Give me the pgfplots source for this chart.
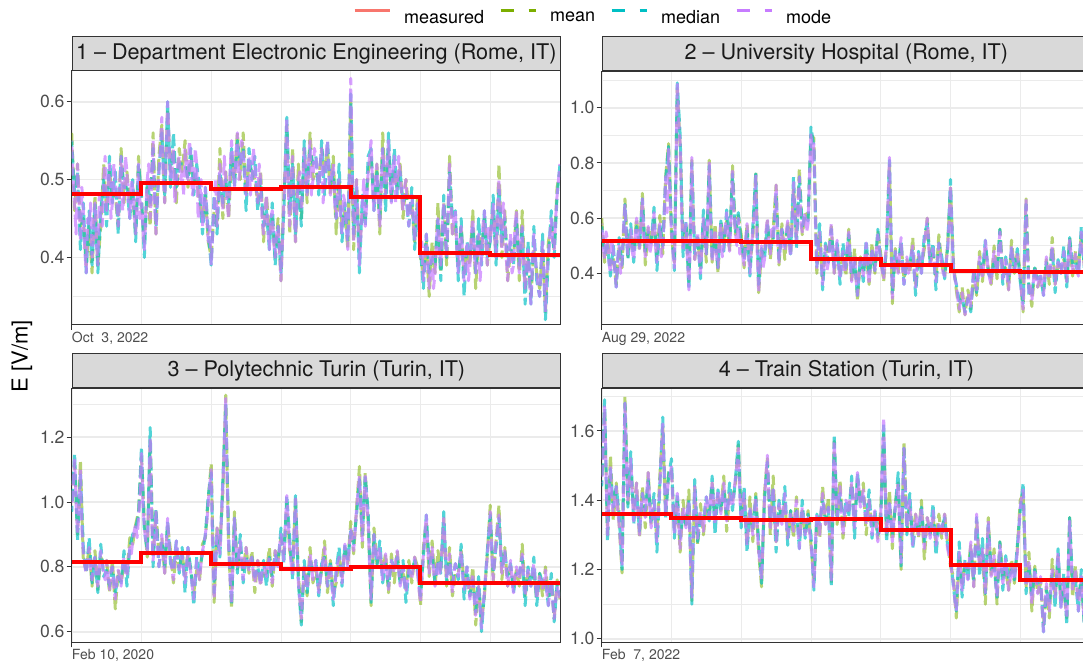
\documentclass[border=0pt]{standalone}
\usepackage{fontspec}
\setmainfont{TeX Gyre Heros}
\usepackage{pgfplots}
\usepackage{pgfplotstable}
\pgfplotsset{compat=1.18}

\definecolor{cmean}{HTML}{7CAE00}
\definecolor{cmedian}{HTML}{00BFC4}
\definecolor{cmode}{HTML}{C77CFF}
\definecolor{cmeas}{HTML}{F8766D}
\definecolor{gridc}{HTML}{EBEBEB}
\definecolor{borderc}{HTML}{333333}
\definecolor{stripc}{HTML}{D9D9D9}
\definecolor{tickc}{HTML}{4D4D4D}
\definecolor{stript}{HTML}{1A1A1A}

% mean and median: hourly values (169 rows); mode: half-hourly values (337 rows)
% ---- site 1 ----
\pgfplotstableread[row sep=\\, header=false]{
0.56\\0.46\\0.52\\0.44\\0.45\\0.39\\0.44\\0.38\\0.48\\0.39\\0.44\\0.52\\0.46\\0.51\\0.48\\0.48\\0.44\\0.54\\0.47\\0.51\\0.47\\0.48\\0.43\\0.53\\
0.47\\0.42\\0.49\\0.44\\0.56\\0.43\\0.53\\0.57\\0.47\\0.59\\0.51\\0.54\\0.47\\0.54\\0.51\\0.55\\0.49\\0.53\\0.50\\0.50\\0.47\\0.45\\0.48\\0.42\\
0.40\\0.46\\0.44\\0.54\\0.45\\0.51\\0.45\\0.53\\0.50\\0.56\\0.50\\0.56\\0.48\\0.52\\0.51\\0.50\\0.47\\0.51\\0.42\\0.48\\0.43\\0.45\\0.40\\0.45\\
0.37\\0.48\\0.57\\0.43\\0.54\\0.42\\0.52\\0.45\\0.54\\0.47\\0.56\\0.50\\0.51\\0.50\\0.54\\0.51\\0.54\\0.48\\0.53\\0.43\\0.50\\0.44\\0.46\\0.41\\
0.60\\0.41\\0.50\\0.41\\0.46\\0.45\\0.51\\0.53\\0.47\\0.52\\0.43\\0.56\\0.48\\0.54\\0.48\\0.51\\0.49\\0.52\\0.45\\0.50\\0.46\\0.47\\0.42\\0.48\\
0.40\\0.38\\0.42\\0.35\\0.42\\0.38\\0.47\\0.38\\0.47\\0.39\\0.53\\0.43\\0.44\\0.39\\0.44\\0.38\\0.41\\0.39\\0.46\\0.36\\0.43\\0.41\\0.45\\0.39\\
0.43\\0.46\\0.40\\0.52\\0.40\\0.46\\0.37\\0.41\\0.40\\0.46\\0.37\\0.46\\0.36\\0.40\\0.35\\0.41\\0.38\\0.36\\0.41\\0.33\\0.42\\0.44\\0.41\\0.49\\0.51\\
}\PaMn
\pgfplotstableread[row sep=\\, header=false]{
0.55\\0.48\\0.51\\0.41\\0.47\\0.38\\0.46\\0.39\\0.47\\0.38\\0.46\\0.50\\0.44\\0.53\\0.47\\0.51\\0.43\\0.53\\0.49\\0.49\\0.45\\0.50\\0.42\\0.52\\
0.48\\0.40\\0.50\\0.47\\0.54\\0.44\\0.51\\0.56\\0.48\\0.60\\0.49\\0.56\\0.49\\0.52\\0.52\\0.52\\0.50\\0.54\\0.48\\0.52\\0.49\\0.43\\0.49\\0.43\\
0.39\\0.48\\0.43\\0.51\\0.47\\0.50\\0.47\\0.54\\0.49\\0.55\\0.52\\0.54\\0.46\\0.54\\0.50\\0.53\\0.46\\0.50\\0.44\\0.46\\0.41\\0.47\\0.39\\0.44\\
0.38\\0.46\\0.58\\0.46\\0.52\\0.43\\0.50\\0.44\\0.55\\0.48\\0.54\\0.52\\0.53\\0.48\\0.55\\0.48\\0.55\\0.49\\0.51\\0.45\\0.52\\0.42\\0.47\\0.42\\
0.61\\0.43\\0.49\\0.38\\0.48\\0.44\\0.53\\0.54\\0.46\\0.51\\0.45\\0.54\\0.46\\0.56\\0.47\\0.54\\0.48\\0.51\\0.47\\0.48\\0.44\\0.49\\0.41\\0.47\\
0.41\\0.36\\0.43\\0.38\\0.40\\0.39\\0.45\\0.37\\0.48\\0.40\\0.51\\0.45\\0.46\\0.37\\0.45\\0.35\\0.42\\0.40\\0.44\\0.38\\0.45\\0.39\\0.46\\0.40\\
0.42\\0.48\\0.39\\0.49\\0.42\\0.45\\0.39\\0.42\\0.39\\0.45\\0.39\\0.44\\0.34\\0.42\\0.34\\0.44\\0.37\\0.35\\0.43\\0.32\\0.40\\0.46\\0.40\\0.48\\0.52\\
}\PaMd
\pgfplotstableread[row sep=\\, header=false]{
0.55\\0.50\\0.47\\0.43\\0.52\\0.48\\0.42\\0.49\\0.46\\0.41\\0.38\\0.45\\0.44\\0.47\\0.40\\0.43\\0.47\\0.42\\0.39\\0.48\\0.45\\0.44\\0.50\\0.53\\
0.46\\0.48\\0.52\\0.45\\0.47\\0.52\\0.50\\0.47\\0.44\\0.49\\0.53\\0.46\\0.48\\0.53\\0.51\\0.47\\0.45\\0.50\\0.49\\0.46\\0.43\\0.47\\0.52\\0.45\\
0.47\\0.44\\0.41\\0.46\\0.50\\0.52\\0.45\\0.49\\0.55\\0.47\\0.43\\0.48\\0.51\\0.54\\0.58\\0.50\\0.47\\0.53\\0.60\\0.55\\0.50\\0.51\\0.54\\0.47\\
0.49\\0.52\\0.53\\0.50\\0.51\\0.48\\0.54\\0.51\\0.50\\0.55\\0.53\\0.48\\0.49\\0.54\\0.52\\0.45\\0.47\\0.50\\0.44\\0.47\\0.49\\0.45\\0.42\\0.44\\
0.39\\0.43\\0.47\\0.50\\0.44\\0.48\\0.52\\0.49\\0.46\\0.53\\0.50\\0.47\\0.45\\0.51\\0.55\\0.52\\0.49\\0.53\\0.56\\0.50\\0.51\\0.55\\0.54\\0.51\\
0.48\\0.50\\0.53\\0.48\\0.50\\0.54\\0.52\\0.49\\0.47\\0.52\\0.50\\0.45\\0.43\\0.46\\0.48\\0.44\\0.41\\0.45\\0.46\\0.42\\0.40\\0.43\\0.44\\0.41\\
0.37\\0.42\\0.47\\0.52\\0.58\\0.49\\0.44\\0.50\\0.53\\0.46\\0.42\\0.47\\0.50\\0.51\\0.46\\0.49\\0.54\\0.51\\0.48\\0.52\\0.55\\0.48\\0.50\\0.54\\
0.53\\0.51\\0.49\\0.52\\0.54\\0.47\\0.50\\0.53\\0.55\\0.50\\0.48\\0.51\\0.52\\0.47\\0.45\\0.49\\0.50\\0.45\\0.43\\0.48\\0.47\\0.44\\0.41\\0.50\\
0.63\\0.52\\0.42\\0.46\\0.50\\0.44\\0.39\\0.43\\0.47\\0.50\\0.44\\0.47\\0.51\\0.53\\0.55\\0.49\\0.46\\0.50\\0.52\\0.47\\0.44\\0.49\\0.54\\0.51\\
0.48\\0.52\\0.55\\0.50\\0.47\\0.51\\0.53\\0.47\\0.49\\0.53\\0.51\\0.48\\0.46\\0.49\\0.50\\0.46\\0.44\\0.47\\0.48\\0.45\\0.42\\0.46\\0.47\\0.43\\
0.40\\0.42\\0.37\\0.40\\0.43\\0.39\\0.36\\0.40\\0.41\\0.36\\0.38\\0.42\\0.45\\0.41\\0.39\\0.44\\0.47\\0.43\\0.40\\0.46\\0.52\\0.47\\0.43\\0.45\\
0.46\\0.41\\0.38\\0.42\\0.44\\0.40\\0.37\\0.40\\0.42\\0.37\\0.39\\0.43\\0.45\\0.41\\0.38\\0.42\\0.43\\0.37\\0.40\\0.44\\0.46\\0.42\\0.39\\0.44\\
0.42\\0.44\\0.47\\0.43\\0.40\\0.46\\0.50\\0.44\\0.41\\0.47\\0.45\\0.40\\0.37\\0.41\\0.43\\0.38\\0.39\\0.44\\0.46\\0.41\\0.38\\0.42\\0.44\\0.39\\
0.36\\0.40\\0.41\\0.37\\0.34\\0.39\\0.43\\0.40\\0.38\\0.36\\0.35\\0.39\\0.42\\0.37\\0.33\\0.38\\0.40\\0.43\\0.45\\0.42\\0.41\\0.45\\0.48\\0.50\\0.52\\
}\PaMo
% ---- site 2 ----
\pgfplotstableread[row sep=\\, header=false]{
0.60\\0.44\\0.52\\0.43\\0.46\\0.36\\0.50\\0.42\\0.67\\0.46\\0.54\\0.48\\0.60\\0.48\\0.69\\0.43\\0.57\\0.51\\0.60\\0.45\\0.61\\0.47\\0.75\\0.87\\
0.54\\0.44\\1.07\\0.86\\0.50\\0.58\\0.37\\0.81\\0.45\\0.53\\0.42\\0.59\\0.44\\0.81\\0.44\\0.58\\0.40\\0.59\\0.52\\0.59\\0.48\\0.79\\0.54\\0.61\\
0.54\\0.42\\0.58\\0.43\\0.53\\0.77\\0.33\\0.48\\0.47\\0.59\\0.45\\0.56\\0.72\\0.43\\0.58\\0.45\\0.59\\0.47\\0.71\\0.53\\0.78\\0.54\\0.62\\0.60\\
0.90\\0.89\\0.40\\0.54\\0.38\\0.50\\0.47\\0.57\\0.40\\0.50\\0.40\\0.47\\0.39\\0.56\\0.37\\0.49\\0.30\\0.46\\0.41\\0.48\\0.36\\0.51\\0.40\\0.55\\
0.47\\0.37\\0.50\\0.80\\0.29\\0.49\\0.40\\0.51\\0.38\\0.45\\0.40\\0.53\\0.35\\0.46\\0.42\\0.49\\0.60\\0.44\\0.47\\0.38\\0.54\\0.43\\0.39\\0.50\\
0.71\\0.44\\0.34\\0.26\\0.35\\0.25\\0.34\\0.27\\0.40\\0.32\\0.48\\0.37\\0.49\\0.42\\0.36\\0.50\\0.38\\0.56\\0.40\\0.42\\0.34\\0.52\\0.40\\0.48\\
0.40\\0.26\\0.67\\0.36\\0.28\\0.43\\0.35\\0.38\\0.34\\0.45\\0.36\\0.53\\0.36\\0.43\\0.42\\0.45\\0.37\\0.53\\0.39\\0.48\\0.42\\0.54\\0.43\\0.51\\0.45\\
}\PbMn
\pgfplotstableread[row sep=\\, header=false]{
0.57\\0.47\\0.50\\0.39\\0.50\\0.35\\0.53\\0.43\\0.65\\0.45\\0.58\\0.44\\0.57\\0.50\\0.67\\0.48\\0.55\\0.51\\0.64\\0.41\\0.58\\0.50\\0.74\\0.86\\
0.57\\0.41\\1.09\\0.90\\0.46\\0.59\\0.34\\0.80\\0.47\\0.54\\0.38\\0.63\\0.47\\0.79\\0.46\\0.53\\0.42\\0.59\\0.48\\0.63\\0.51\\0.76\\0.55\\0.62\\
0.51\\0.45\\0.56\\0.39\\0.57\\0.76\\0.36\\0.49\\0.45\\0.58\\0.49\\0.52\\0.69\\0.45\\0.56\\0.50\\0.57\\0.47\\0.75\\0.49\\0.75\\0.57\\0.61\\0.59\\
0.93\\0.86\\0.42\\0.58\\0.34\\0.51\\0.44\\0.56\\0.42\\0.51\\0.36\\0.51\\0.42\\0.54\\0.39\\0.44\\0.32\\0.46\\0.37\\0.52\\0.39\\0.48\\0.41\\0.56\\
0.44\\0.40\\0.48\\0.81\\0.33\\0.48\\0.43\\0.52\\0.36\\0.44\\0.44\\0.49\\0.32\\0.48\\0.40\\0.54\\0.58\\0.44\\0.51\\0.34\\0.51\\0.46\\0.38\\0.49\\
0.74\\0.41\\0.36\\0.30\\0.31\\0.26\\0.31\\0.26\\0.42\\0.33\\0.44\\0.41\\0.52\\0.40\\0.38\\0.45\\0.40\\0.56\\0.36\\0.46\\0.37\\0.49\\0.41\\0.49\\
0.37\\0.29\\0.65\\0.32\\0.32\\0.42\\0.38\\0.39\\0.32\\0.44\\0.40\\0.49\\0.33\\0.45\\0.40\\0.50\\0.35\\0.53\\0.43\\0.44\\0.39\\0.57\\0.42\\0.50\\0.46\\
}\PbMd
\pgfplotstableread[row sep=\\, header=false]{
0.58\\0.50\\0.45\\0.55\\0.52\\0.44\\0.40\\0.52\\0.48\\0.41\\0.35\\0.45\\0.50\\0.40\\0.44\\0.56\\0.65\\0.52\\0.47\\0.50\\0.56\\0.48\\0.45\\0.53\\
0.60\\0.54\\0.49\\0.58\\0.67\\0.52\\0.46\\0.51\\0.57\\0.47\\0.50\\0.55\\0.62\\0.50\\0.44\\0.53\\0.58\\0.46\\0.48\\0.60\\0.75\\0.62\\0.85\\0.68\\
0.55\\0.48\\0.42\\0.70\\1.09\\0.95\\0.87\\0.62\\0.48\\0.55\\0.58\\0.45\\0.34\\0.52\\0.82\\0.60\\0.45\\0.50\\0.55\\0.46\\0.40\\0.51\\0.60\\0.53\\
0.47\\0.62\\0.80\\0.57\\0.44\\0.50\\0.56\\0.47\\0.42\\0.53\\0.58\\0.46\\0.50\\0.57\\0.62\\0.53\\0.48\\0.60\\0.77\\0.62\\0.55\\0.50\\0.60\\0.47\\
0.52\\0.47\\0.43\\0.52\\0.58\\0.47\\0.40\\0.50\\0.55\\0.62\\0.76\\0.48\\0.33\\0.44\\0.50\\0.42\\0.45\\0.55\\0.60\\0.50\\0.47\\0.56\\0.53\\0.60\\
0.72\\0.52\\0.44\\0.51\\0.56\\0.50\\0.48\\0.55\\0.59\\0.50\\0.46\\0.58\\0.73\\0.60\\0.52\\0.64\\0.75\\0.58\\0.55\\0.60\\0.62\\0.55\\0.58\\0.75\\
0.91\\0.80\\0.87\\0.60\\0.42\\0.50\\0.55\\0.45\\0.36\\0.44\\0.50\\0.41\\0.44\\0.52\\0.58\\0.47\\0.40\\0.48\\0.52\\0.43\\0.38\\0.45\\0.48\\0.40\\
0.42\\0.50\\0.55\\0.44\\0.37\\0.43\\0.47\\0.38\\0.32\\0.40\\0.45\\0.44\\0.39\\0.46\\0.51\\0.42\\0.36\\0.44\\0.49\\0.43\\0.41\\0.48\\0.54\\0.49\\
0.45\\0.41\\0.38\\0.45\\0.50\\0.66\\0.82\\0.55\\0.31\\0.40\\0.48\\0.44\\0.40\\0.47\\0.53\\0.42\\0.36\\0.41\\0.46\\0.40\\0.42\\0.47\\0.50\\0.41\\
0.35\\0.43\\0.47\\0.44\\0.40\\0.47\\0.52\\0.55\\0.60\\0.50\\0.43\\0.46\\0.49\\0.42\\0.37\\0.45\\0.51\\0.47\\0.44\\0.40\\0.39\\0.44\\0.48\\0.58\\
0.72\\0.55\\0.42\\0.38\\0.36\\0.31\\0.27\\0.30\\0.33\\0.29\\0.25\\0.28\\0.31\\0.33\\0.28\\0.35\\0.40\\0.36\\0.34\\0.41\\0.46\\0.42\\0.38\\0.45\\
0.52\\0.46\\0.41\\0.38\\0.36\\0.43\\0.48\\0.44\\0.40\\0.47\\0.55\\0.46\\0.38\\0.42\\0.45\\0.39\\0.34\\0.43\\0.50\\0.45\\0.41\\0.44\\0.47\\0.42\\
0.38\\0.32\\0.27\\0.50\\0.67\\0.48\\0.33\\0.36\\0.30\\0.37\\0.42\\0.38\\0.35\\0.39\\0.40\\0.35\\0.32\\0.40\\0.46\\0.41\\0.38\\0.44\\0.50\\0.42\\
0.36\\0.40\\0.44\\0.43\\0.40\\0.44\\0.48\\0.42\\0.37\\0.45\\0.52\\0.46\\0.41\\0.44\\0.47\\0.42\\0.39\\0.47\\0.55\\0.48\\0.43\\0.46\\0.49\\0.44\\0.45\\
}\PbMo
% ---- site 3 ----
\pgfplotstableread[row sep=\\, header=false]{
1.00\\1.12\\0.90\\1.13\\0.82\\0.79\\0.86\\0.74\\0.85\\0.73\\0.83\\0.81\\0.82\\0.72\\0.82\\0.67\\0.79\\0.75\\0.81\\0.78\\0.89\\0.87\\0.93\\0.97\\
1.14\\0.94\\0.83\\1.19\\0.84\\0.97\\0.83\\0.89\\0.78\\0.93\\0.85\\0.75\\0.85\\0.80\\0.84\\0.77\\0.84\\0.79\\0.72\\0.79\\0.76\\0.87\\0.89\\1.01\\
1.12\\0.69\\0.92\\0.87\\1.03\\1.33\\0.86\\0.67\\0.97\\0.79\\0.86\\0.79\\0.86\\0.78\\0.85\\0.72\\0.82\\0.75\\0.78\\0.78\\0.86\\0.74\\0.85\\0.82\\
0.89\\0.84\\1.00\\0.85\\0.80\\1.01\\0.78\\0.63\\0.80\\0.71\\0.86\\0.75\\0.79\\0.73\\0.79\\0.88\\0.72\\0.82\\0.72\\0.75\\0.83\\0.77\\0.86\\0.81\\
0.94\\0.84\\0.98\\1.11\\0.86\\1.09\\0.94\\0.68\\0.92\\0.81\\0.84\\0.79\\0.84\\0.72\\0.84\\0.75\\0.85\\0.75\\0.78\\0.73\\0.82\\0.75\\0.83\\0.80\\
0.68\\0.86\\0.94\\0.77\\0.88\\0.74\\0.85\\0.79\\0.95\\0.74\\0.86\\0.71\\0.78\\0.78\\0.85\\0.75\\0.78\\0.71\\0.80\\0.62\\0.74\\0.63\\0.71\\0.84\\
0.99\\0.75\\0.88\\0.99\\0.76\\0.86\\0.74\\0.80\\0.74\\0.79\\0.74\\0.87\\0.71\\0.78\\0.76\\0.78\\0.70\\0.78\\0.71\\0.80\\0.71\\0.75\\0.64\\0.76\\0.70\\
}\PcMn
\pgfplotstableread[row sep=\\, header=false]{
0.97\\1.15\\0.88\\1.09\\0.86\\0.78\\0.89\\0.75\\0.83\\0.72\\0.87\\0.77\\0.79\\0.74\\0.80\\0.72\\0.77\\0.75\\0.85\\0.74\\0.86\\0.90\\0.92\\0.96\\
1.17\\0.91\\0.85\\1.23\\0.80\\0.98\\0.80\\0.88\\0.80\\0.94\\0.81\\0.79\\0.88\\0.78\\0.86\\0.72\\0.86\\0.79\\0.68\\0.83\\0.79\\0.84\\0.90\\1.02\\
1.09\\0.72\\0.90\\0.83\\1.07\\1.30\\0.89\\0.68\\0.95\\0.78\\0.90\\0.75\\0.83\\0.80\\0.83\\0.77\\0.80\\0.75\\0.82\\0.74\\0.83\\0.77\\0.84\\0.81\\
0.92\\0.81\\1.02\\0.89\\0.76\\1.02\\0.75\\0.62\\0.82\\0.72\\0.82\\0.79\\0.82\\0.71\\0.81\\0.83\\0.74\\0.82\\0.68\\0.79\\0.86\\0.74\\0.87\\0.82\\
0.91\\0.87\\0.96\\1.07\\0.90\\1.08\\0.97\\0.69\\0.90\\0.80\\0.88\\0.75\\0.81\\0.74\\0.82\\0.80\\0.83\\0.75\\0.82\\0.69\\0.79\\0.78\\0.82\\0.79\\
0.71\\0.83\\0.96\\0.81\\0.84\\0.75\\0.82\\0.78\\0.97\\0.75\\0.82\\0.75\\0.81\\0.76\\0.87\\0.70\\0.80\\0.71\\0.76\\0.66\\0.77\\0.60\\0.72\\0.85\\
0.96\\0.78\\0.86\\0.95\\0.80\\0.85\\0.77\\0.81\\0.72\\0.78\\0.78\\0.83\\0.68\\0.80\\0.74\\0.83\\0.68\\0.78\\0.75\\0.76\\0.68\\0.78\\0.63\\0.75\\0.71\\
}\PcMd
\pgfplotstableread[row sep=\\, header=false]{
0.98\\1.05\\1.13\\1.00\\0.90\\0.97\\1.10\\0.92\\0.84\\0.80\\0.78\\0.83\\0.86\\0.79\\0.76\\0.81\\0.83\\0.77\\0.74\\0.80\\0.85\\0.81\\0.78\\0.76\\
0.82\\0.77\\0.73\\0.79\\0.80\\0.74\\0.70\\0.76\\0.79\\0.77\\0.74\\0.80\\0.83\\0.78\\0.77\\0.82\\0.86\\0.84\\0.88\\0.91\\0.93\\0.89\\0.95\\1.02\\
1.15\\1.00\\0.92\\0.88\\0.85\\1.02\\1.20\\0.95\\0.82\\0.88\\0.97\\0.86\\0.80\\0.84\\0.90\\0.82\\0.78\\0.86\\0.95\\0.87\\0.83\\0.79\\0.76\\0.82\\
0.88\\0.83\\0.79\\0.81\\0.84\\0.79\\0.75\\0.80\\0.86\\0.81\\0.78\\0.74\\0.70\\0.77\\0.82\\0.78\\0.76\\0.81\\0.85\\0.87\\0.90\\0.94\\1.00\\1.05\\
1.10\\0.85\\0.70\\0.80\\0.92\\0.87\\0.84\\0.95\\1.05\\1.18\\1.32\\1.05\\0.86\\0.76\\0.69\\0.82\\0.95\\0.86\\0.80\\0.84\\0.88\\0.81\\0.76\\0.82\\
0.86\\0.81\\0.79\\0.82\\0.83\\0.78\\0.75\\0.79\\0.82\\0.77\\0.74\\0.78\\0.80\\0.79\\0.77\\0.81\\0.83\\0.78\\0.75\\0.80\\0.85\\0.81\\0.80\\0.86\\
0.90\\0.86\\0.82\\0.93\\1.02\\0.94\\0.86\\0.81\\0.78\\0.90\\1.01\\0.86\\0.75\\0.70\\0.64\\0.72\\0.80\\0.77\\0.73\\0.79\\0.84\\0.80\\0.76\\0.79\\
0.82\\0.77\\0.72\\0.76\\0.79\\0.82\\0.86\\0.79\\0.74\\0.78\\0.81\\0.75\\0.70\\0.74\\0.78\\0.81\\0.83\\0.79\\0.75\\0.82\\0.87\\0.83\\0.80\\0.86\\
0.92\\0.88\\0.85\\0.91\\0.98\\1.03\\1.08\\0.97\\0.88\\0.99\\1.08\\1.00\\0.94\\0.80\\0.70\\0.81\\0.90\\0.85\\0.82\\0.84\\0.86\\0.80\\0.76\\0.81\\
0.84\\0.78\\0.73\\0.78\\0.82\\0.80\\0.78\\0.82\\0.85\\0.79\\0.74\\0.77\\0.80\\0.75\\0.72\\0.76\\0.79\\0.78\\0.76\\0.80\\0.83\\0.80\\0.78\\0.73\\
0.69\\0.77\\0.84\\0.90\\0.96\\0.86\\0.78\\0.82\\0.86\\0.79\\0.74\\0.78\\0.82\\0.77\\0.80\\0.87\\0.95\\0.85\\0.76\\0.80\\0.84\\0.77\\0.72\\0.78\\
0.81\\0.79\\0.77\\0.81\\0.85\\0.78\\0.73\\0.77\\0.80\\0.74\\0.70\\0.75\\0.78\\0.70\\0.65\\0.71\\0.74\\0.67\\0.61\\0.68\\0.72\\0.79\\0.83\\0.90\\
0.97\\0.85\\0.76\\0.82\\0.88\\0.92\\0.96\\0.86\\0.78\\0.81\\0.85\\0.79\\0.74\\0.78\\0.82\\0.76\\0.72\\0.77\\0.80\\0.78\\0.76\\0.80\\0.84\\0.77\\
0.71\\0.75\\0.79\\0.76\\0.74\\0.78\\0.81\\0.75\\0.70\\0.74\\0.77\\0.75\\0.73\\0.76\\0.79\\0.72\\0.68\\0.73\\0.76\\0.69\\0.64\\0.70\\0.74\\0.72\\0.70\\
}\PcMo
% ---- site 4 ----
\pgfplotstableread[row sep=\\, header=false]{
1.47\\1.66\\1.30\\1.53\\1.34\\1.45\\1.33\\1.19\\1.70\\1.39\\1.50\\1.37\\1.45\\1.29\\1.44\\1.32\\1.48\\1.33\\1.38\\1.29\\1.47\\1.61\\1.36\\1.48\\
1.49\\1.32\\1.40\\1.25\\1.40\\1.32\\1.43\\1.11\\1.44\\1.27\\1.39\\1.30\\1.38\\1.36\\1.45\\1.35\\1.41\\1.37\\1.47\\1.31\\1.42\\1.40\\1.45\\1.56\\
1.35\\1.41\\1.27\\1.41\\1.28\\1.42\\1.25\\1.15\\1.42\\1.52\\1.30\\1.47\\1.28\\1.38\\1.35\\1.39\\1.29\\1.37\\1.29\\1.41\\1.29\\1.37\\1.30\\1.37\\
1.27\\1.17\\1.34\\1.29\\1.44\\1.33\\1.41\\1.16\\1.57\\1.33\\1.46\\1.29\\1.37\\1.37\\1.45\\1.34\\1.46\\1.39\\1.45\\1.30\\1.40\\1.32\\1.36\\1.29\\
1.37\\1.59\\1.30\\1.43\\1.26\\1.39\\1.45\\1.20\\1.57\\1.31\\1.38\\1.30\\1.36\\1.29\\1.40\\1.23\\1.35\\1.30\\1.35\\1.28\\1.36\\1.29\\1.36\\1.28\\
1.21\\1.18\\1.06\\1.24\\1.16\\1.22\\1.20\\1.27\\1.15\\1.34\\1.22\\1.25\\1.10\\1.35\\1.18\\1.26\\1.10\\1.28\\1.18\\1.20\\1.14\\1.23\\1.16\\1.26\\
1.40\\1.42\\1.15\\1.25\\1.08\\1.21\\1.13\\1.16\\1.04\\1.15\\1.06\\1.23\\1.12\\1.24\\1.11\\1.14\\1.06\\1.35\\1.12\\1.21\\1.11\\1.17\\1.05\\1.24\\1.15\\
}\PdMn
\pgfplotstableread[row sep=\\, header=false]{
1.44\\1.69\\1.28\\1.49\\1.38\\1.44\\1.36\\1.20\\1.68\\1.38\\1.54\\1.33\\1.42\\1.31\\1.42\\1.37\\1.46\\1.33\\1.42\\1.25\\1.44\\1.64\\1.35\\1.47\\
1.52\\1.29\\1.42\\1.29\\1.36\\1.33\\1.40\\1.10\\1.46\\1.28\\1.35\\1.34\\1.41\\1.34\\1.47\\1.30\\1.43\\1.37\\1.43\\1.35\\1.45\\1.37\\1.46\\1.57\\
1.32\\1.44\\1.25\\1.37\\1.32\\1.41\\1.28\\1.16\\1.40\\1.51\\1.34\\1.43\\1.25\\1.40\\1.33\\1.44\\1.27\\1.37\\1.33\\1.37\\1.26\\1.40\\1.29\\1.36\\
1.30\\1.14\\1.36\\1.33\\1.40\\1.34\\1.38\\1.15\\1.59\\1.34\\1.42\\1.33\\1.40\\1.35\\1.47\\1.29\\1.48\\1.39\\1.41\\1.34\\1.43\\1.29\\1.37\\1.30\\
1.34\\1.62\\1.28\\1.39\\1.30\\1.38\\1.48\\1.21\\1.55\\1.30\\1.42\\1.26\\1.33\\1.31\\1.38\\1.28\\1.33\\1.30\\1.39\\1.24\\1.33\\1.32\\1.35\\1.27\\
1.24\\1.15\\1.08\\1.28\\1.12\\1.23\\1.17\\1.26\\1.17\\1.35\\1.18\\1.29\\1.13\\1.33\\1.20\\1.21\\1.12\\1.28\\1.14\\1.24\\1.17\\1.20\\1.17\\1.27\\
1.37\\1.45\\1.13\\1.21\\1.12\\1.20\\1.16\\1.17\\1.02\\1.14\\1.10\\1.19\\1.09\\1.26\\1.09\\1.19\\1.04\\1.35\\1.16\\1.17\\1.08\\1.20\\1.04\\1.23\\1.16\\
}\PdMd
\pgfplotstableread[row sep=\\, header=false]{
1.45\\1.55\\1.67\\1.48\\1.30\\1.42\\1.50\\1.40\\1.36\\1.41\\1.44\\1.37\\1.33\\1.27\\1.21\\1.45\\1.68\\1.52\\1.40\\1.47\\1.52\\1.42\\1.34\\1.40\\
1.45\\1.36\\1.30\\1.37\\1.42\\1.39\\1.35\\1.42\\1.48\\1.39\\1.32\\1.36\\1.40\\1.33\\1.28\\1.37\\1.44\\1.54\\1.62\\1.48\\1.36\\1.42\\1.46\\1.47\\
1.50\\1.38\\1.30\\1.36\\1.42\\1.33\\1.26\\1.33\\1.38\\1.35\\1.32\\1.37\\1.40\\1.24\\1.12\\1.30\\1.44\\1.35\\1.29\\1.34\\1.37\\1.33\\1.31\\1.37\\
1.41\\1.38\\1.35\\1.41\\1.45\\1.38\\1.33\\1.39\\1.43\\1.40\\1.36\\1.41\\1.45\\1.39\\1.34\\1.38\\1.42\\1.40\\1.38\\1.43\\1.46\\1.50\\1.55\\1.42\\
1.33\\1.38\\1.42\\1.34\\1.27\\1.33\\1.38\\1.34\\1.30\\1.36\\1.41\\1.32\\1.25\\1.22\\1.17\\1.30\\1.40\\1.47\\1.53\\1.41\\1.32\\1.38\\1.44\\1.35\\
1.28\\1.34\\1.39\\1.36\\1.33\\1.38\\1.42\\1.34\\1.29\\1.33\\1.36\\1.34\\1.31\\1.36\\1.40\\1.32\\1.26\\1.33\\1.38\\1.34\\1.30\\1.33\\1.35\\1.31\\
1.28\\1.22\\1.15\\1.27\\1.36\\1.34\\1.30\\1.37\\1.42\\1.38\\1.33\\1.36\\1.38\\1.26\\1.17\\1.38\\1.57\\1.45\\1.35\\1.40\\1.44\\1.36\\1.30\\1.35\\
1.40\\1.39\\1.36\\1.41\\1.45\\1.38\\1.32\\1.41\\1.48\\1.43\\1.38\\1.40\\1.43\\1.37\\1.33\\1.37\\1.40\\1.35\\1.30\\1.34\\1.37\\1.32\\1.28\\1.31\\
1.35\\1.50\\1.64\\1.45\\1.30\\1.36\\1.40\\1.33\\1.28\\1.34\\1.38\\1.41\\1.45\\1.32\\1.22\\1.40\\1.55\\1.42\\1.32\\1.37\\1.40\\1.33\\1.27\\1.31\\
1.36\\1.34\\1.30\\1.35\\1.38\\1.31\\1.26\\1.30\\1.35\\1.33\\1.29\\1.32\\1.37\\1.31\\1.27\\1.30\\1.33\\1.32\\1.30\\1.34\\1.36\\1.30\\1.26\\1.24\\
1.22\\1.19\\1.16\\1.11\\1.08\\1.17\\1.25\\1.19\\1.14\\1.18\\1.22\\1.20\\1.17\\1.23\\1.28\\1.21\\1.15\\1.26\\1.36\\1.27\\1.20\\1.23\\1.26\\1.19\\
1.13\\1.24\\1.34\\1.25\\1.18\\1.21\\1.24\\1.17\\1.12\\1.20\\1.27\\1.22\\1.16\\1.19\\1.23\\1.18\\1.14\\1.17\\1.21\\1.19\\1.17\\1.21\\1.25\\1.31\\
1.38\\1.41\\1.43\\1.30\\1.15\\1.19\\1.22\\1.16\\1.10\\1.15\\1.20\\1.17\\1.13\\1.15\\1.18\\1.10\\1.02\\1.09\\1.16\\1.12\\1.08\\1.14\\1.20\\1.16\\
1.12\\1.18\\1.25\\1.17\\1.09\\1.13\\1.17\\1.11\\1.06\\1.20\\1.34\\1.24\\1.14\\1.17\\1.20\\1.14\\1.08\\1.13\\1.18\\1.11\\1.05\\1.14\\1.22\\1.19\\1.15\\
}\PdMo

\pgfplotsset{
  panel/.style={
    scale only axis, width=488.3pt, height=254pt, anchor=south west,
    xmin=0, xmax=7, xtick={0}, minor xtick={1,2,3,4,5,6},
    xmajorgrids, xminorgrids, ymajorgrids, yminorgrids,
    major grid style={gridc, line width=1.8pt},
    minor grid style={gridc, line width=0.9pt},
    tick align=outside, tick pos=left,
    major tick length=5pt, minor tick length=0pt,
    tick style={borderc, line width=1pt},
    axis line style={borderc, line width=1pt},
    /pgf/number format/assume math mode=true,
    yticklabel style={font=\fontsize{17.6}{20}\selectfont, text=tickc, inner sep=2pt,
      /pgf/number format/fixed, /pgf/number format/fixed zerofill,
      /pgf/number format/precision=1},
    xticklabel style={font=\fontsize{14}{16}\selectfont, text=tickc,
      anchor=north west, inner sep=0pt, yshift=-2pt},
  },
  series/.style={line width=3pt, line join=round, forget plot},
  dmean/.style={series, cmean, opacity=0.55, dash pattern=on 12pt off 5pt},
  dmedian/.style={series, cmedian, opacity=0.68, dash pattern=on 12pt off 5pt, dash phase=6pt},
  dmode/.style={series, cmode, opacity=0.72, dash pattern=on 12pt off 5pt, dash phase=11pt},
  meas/.style={red, line width=4pt, const plot, forget plot},
}
\tikzset{
  strip/.style={anchor=south west, fill=stripc, draw=borderc, line width=1pt,
    minimum width=488.3pt, minimum height=34pt, inner sep=0pt,
    font=\fontsize{21.6}{24}\selectfont, text=stript},
}

\begin{document}
\begin{tikzpicture}
\path[use as bounding box] (0pt,0pt) rectangle (1083pt,667pt);

% ---------- site 1 ----------
\begin{axis}[panel, name=pa, at={(71.7pt,342pt)},
  ymin=0.3132, ymax=0.6394, ytick={0.4,0.5,0.6}, minor ytick={0.35,0.45,0.55},
  xticklabels={Oct~~3{,} 2022},
  legend image code/.code={\draw[#1] (0pt,6.5pt) -- (35pt,6.5pt);},
  legend columns=4, legend cell align=left,
  legend style={at={(0.576,1.212)}, anchor=west, draw=none, fill=none,
    inner sep=0pt, font=\fontsize{18}{21}\selectfont, nodes={inner sep=0pt},
    /tikz/every odd column/.append style={column sep=13pt},
    /tikz/every even column/.append style={column sep=15pt}}]
\addlegendimage{cmeas, line width=3pt}
\addlegendentry{measured}
\addlegendimage{cmean, line width=3pt, dash pattern=on 13pt off 15pt}
\addlegendentry{mean}
\addlegendimage{cmedian, line width=3pt, dash pattern=on 13pt off 15pt}
\addlegendentry{median}
\addlegendimage{cmode, line width=3pt, dash pattern=on 13pt off 15pt}
\addlegendentry{mode}
\addplot[dmean] table[x expr=\coordindex/24, y index=0] {\PaMn};
\addplot[dmedian] table[x expr=\coordindex/24, y index=0] {\PaMd};
\addplot[dmode] table[x expr=\coordindex/48, y index=0] {\PaMo};
\addplot[meas] coordinates {(0,0.482)(1,0.495)(2,0.488)(3,0.490)(4,0.477)(5,0.406)(6,0.403)(7,0.403)};
\end{axis}
\node[strip] at (pa.north west) {1 – Department Electronic Engineering (Rome, IT)};

% ---------- site 2 ----------
\begin{axis}[panel, name=pb, at={(601.7pt,342pt)},
  ymin=0.213, ymax=1.133, ytick={0.4,0.6,0.8,1.0}, minor ytick={0.3,0.5,0.7,0.9,1.1},
  xticklabels={Aug 29{,} 2022}]
\addplot[dmean] table[x expr=\coordindex/24, y index=0] {\PbMn};
\addplot[dmedian] table[x expr=\coordindex/24, y index=0] {\PbMd};
\addplot[dmode] table[x expr=\coordindex/48, y index=0] {\PbMo};
\addplot[meas] coordinates {(0,0.517)(2,0.515)(3,0.452)(4,0.430)(5,0.407)(6,0.405)(7,0.405)};
\end{axis}
\node[strip] at (pb.north west) {2 – University Hospital (Rome, IT)};

% ---------- site 3 ----------
\begin{axis}[panel, name=pc, at={(71.7pt,24.7pt)},
  ymin=0.567, ymax=1.351, ytick={0.6,0.8,1.0,1.2}, minor ytick={0.7,0.9,1.1,1.3},
  xticklabels={Feb 10{,} 2020}]
\addplot[dmean] table[x expr=\coordindex/24, y index=0] {\PcMn};
\addplot[dmedian] table[x expr=\coordindex/24, y index=0] {\PcMd};
\addplot[dmode] table[x expr=\coordindex/48, y index=0] {\PcMo};
\addplot[meas] coordinates {(0,0.8145)(1,0.843)(2,0.808)(3,0.793)(4,0.800)(5,0.751)(7,0.751)};
\end{axis}
\node[strip] at (pc.north west) {3 – Polytechnic Turin (Turin, IT)};

% ---------- site 4 ----------
\begin{axis}[panel, name=pd, at={(601.7pt,24.7pt)},
  ymin=0.99, ymax=1.723, ytick={1.0,1.2,1.4,1.6}, minor ytick={1.1,1.3,1.5,1.7},
  xticklabels={Feb~~7{,} 2022}]
\addplot[dmean] table[x expr=\coordindex/24, y index=0] {\PdMn};
\addplot[dmedian] table[x expr=\coordindex/24, y index=0] {\PdMd};
\addplot[dmode] table[x expr=\coordindex/48, y index=0] {\PdMo};
\addplot[meas] coordinates {(0,1.3595)(1,1.349)(2,1.3415)(3,1.347)(4,1.313)(5,1.2125)(6,1.171)(7,1.171)};
\end{axis}
\node[strip] at (pd.north west) {4 – Train Station (Turin, IT)};

\node[rotate=90, font=\fontsize{22}{24}\selectfont] at (22pt,311pt) {E [V/m]};
\end{tikzpicture}
\end{document}
